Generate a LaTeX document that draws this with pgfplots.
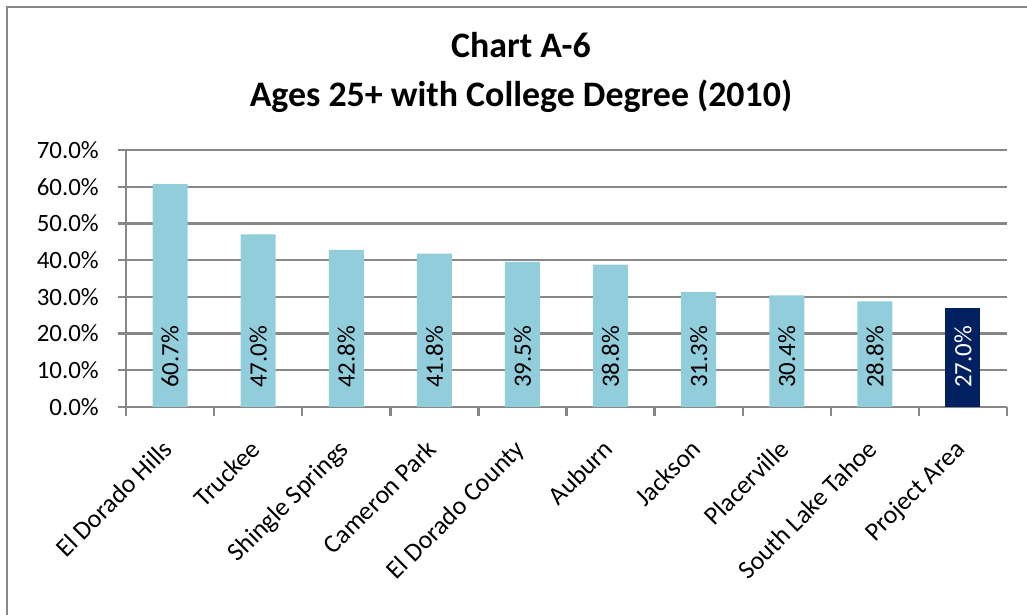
\documentclass[border=0pt]{standalone}
\usepackage{pgfplots}
\pgfplotsset{compat=1.18}
\usepackage{pgfplotstable}
\usepackage{fontspec}
\setmainfont{Carlito}

\definecolor{barblue}{HTML}{92CDDC}
\definecolor{navyblue}{HTML}{002060}
\definecolor{gridgray}{HTML}{878787}

% Share of residents aged 25+ holding a college degree, 2010
\pgfplotstableread{
x y
0 60.7
1 47.0
2 42.8
3 41.8
4 39.5
5 38.8
6 31.3
7 30.4
8 28.8
}\placesdata
\pgfplotstableread{
x y
9 27.0
}\projectdata

\begin{document}
\begin{tikzpicture}[x=1bp,y=1bp]
\useasboundingbox (0,0) rectangle (1027,615);
% chart frame
\draw[gridgray, line width=2bp] (7,0) -- (7,608) -- (1027,608);
% title
\node[font=\bfseries\fontsize{36}{42}\selectfont, anchor=base] at (521,557) {Chart A-6};
\node[font=\bfseries\fontsize{36}{42}\selectfont, anchor=base] at (521,508) {Ages 25+ with College Degree (2010)};
\begin{axis}[
  at={(126bp,208bp)}, anchor=south west,
  scale only axis, width=881bp, height=257bp,
  xmin=-0.5, xmax=9.5, ymin=0, ymax=70,
  axis lines*=left,
  axis line style={gridgray, line width=2.4bp},
  xtick={0,...,9},
  xticklabels={El Dorado Hills, Truckee, Shingle Springs, Cameron Park, El Dorado County, Auburn, Jackson, Placerville, South Lake Tahoe, Project Area},
  minor xtick={-0.5,0.5,...,9.5},
  ytick={0,10,...,70},
  yticklabels={0.0\%,10.0\%,20.0\%,30.0\%,40.0\%,50.0\%,60.0\%,70.0\%},
  tick align=outside,
  major tick length=8bp, minor tick length=9bp,
  x tick style={draw=none},
  minor x tick style={draw=gridgray, line width=2.4bp},
  y tick style={gridgray, line width=2.4bp},
  ymajorgrids,
  major grid style={gridgray, line width=2.4bp},
  tick label style={font=\fontsize{25}{30}\selectfont},
  yticklabel style={inner sep=0pt, xshift=-19bp},
  xticklabel style={font=\fontsize{26}{30}\selectfont, xshift=-9bp, yshift=-23bp, rotate=45, anchor=north east, inner sep=0pt},
  /pgf/number format/assume math mode=true,
  clip=false,
]
\addplot[ybar, bar width=35bp, bar shift=0pt, fill=barblue, draw=none] table[x=x, y=y] {\placesdata};
\addplot[ybar, bar width=35bp, bar shift=0pt, fill=navyblue, draw=none] table[x=x, y=y] {\projectdata};
% value labels at the base of each bar
\addplot[draw=none, mark=none, point meta=\thisrow{y},
  nodes near coords={\pgfmathprintnumber[fixed, fixed zerofill, precision=1, assume math mode=true]{\pgfplotspointmeta}\%},
  nodes near coords style={font=\fontsize{25}{30}\selectfont, black, inner sep=0pt, yshift=19bp, rotate=90, anchor=west}]
  table[x=x, y expr=0] {\placesdata};
\addplot[draw=none, mark=none, point meta=\thisrow{y},
  nodes near coords={\pgfmathprintnumber[fixed, fixed zerofill, precision=1, assume math mode=true]{\pgfplotspointmeta}\%},
  nodes near coords style={font=\fontsize{25}{30}\selectfont, white, inner sep=0pt, yshift=19bp, rotate=90, anchor=west}]
  table[x=x, y expr=0] {\projectdata};
\end{axis}
\end{tikzpicture}
\end{document}
